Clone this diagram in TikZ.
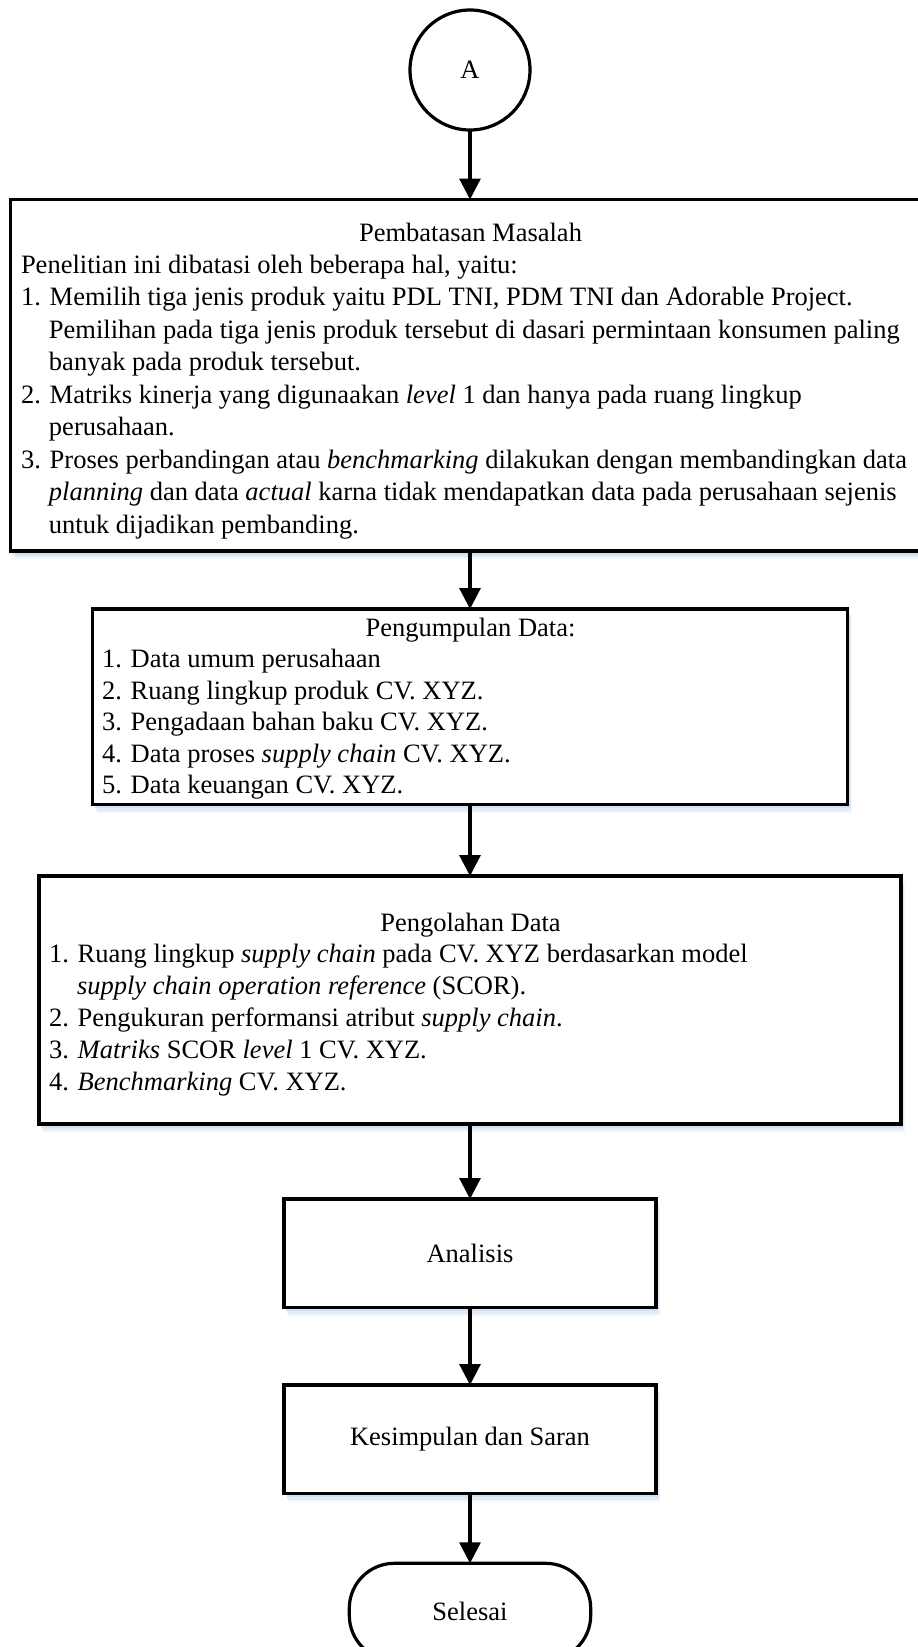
\documentclass[tikz,border=0pt]{standalone}
\usepackage{fontspec}
\setmainfont{Liberation Serif}
\usetikzlibrary{arrows.meta,shadows}
\definecolor{shadowblue}{RGB}{200,218,238}
\begin{document}
\begin{tikzpicture}[x=1pt,y=-1pt,
  every node/.style={inner sep=0pt, outer sep=0pt},
  txt/.style={font=\fontsize{26.5pt}{#1}\selectfont},
  txt/.default=32.3pt,
  procbox/.style={draw, line width=3.2pt, fill=white,
    drop shadow={shadow xshift=4pt, shadow yshift=-8pt, fill=shadowblue, opacity=0.25},
    drop shadow={shadow xshift=3pt, shadow yshift=-6pt, fill=shadowblue, opacity=0.4},
    drop shadow={shadow xshift=2pt, shadow yshift=-3.5pt, fill=shadowblue, opacity=0.6}},
  connector/.style={line width=3.2pt, -{Triangle[width=21pt,length=21pt]}},
  linkcircle/.style={draw, circle, line width=3.2pt, minimum size=120pt, txt},
  terminal/.style={draw, rectangle, rounded corners=45pt, line width=3.2pt, txt}
]
\useasboundingbox (0,0) rectangle (918,1647);

% connector node
\node[linkcircle] (A) at (470,70) {A};

% Pembatasan Masalah
\node[procbox, minimum width=919pt, minimum height=351.5pt] (b1) at (470,375.25) {};
\node[txt, anchor=base] (b1title) at (470.5,241.5) {Pembatasan Masalah};
\node[txt=32.5pt, anchor=base west] (b1list) at (21,273) {\parbox[t]{1000pt}{%
Penelitian ini dibatasi oleh beberapa hal, yaitu:\\
1. Memilih tiga jenis produk yaitu PDL TNI, PDM TNI dan Adorable Project.\\
\hspace*{28pt}Pemilihan pada tiga jenis produk tersebut di dasari permintaan konsumen paling\\
\hspace*{28pt}banyak pada produk tersebut.\\
2. Matriks kinerja yang digunaakan \textit{level} 1 dan hanya pada ruang lingkup\\
\hspace*{28pt}perusahaan.\\
3. Proses perbandingan atau \textit{benchmarking} dilakukan dengan membandingkan data\\
\hspace*{28pt}\textit{planning} dan data \textit{actual} karna tidak mendapatkan data pada perusahaan sejenis\\
\hspace*{28pt}untuk dijadikan pembanding.}};

% Pengumpulan Data
\node[procbox, minimum width=755pt, minimum height=195.5pt] (b2) at (470,706.75) {};
\node[txt, anchor=base] (b2title) at (470.5,636) {Pengumpulan Data:};
\node[txt=31.5pt, anchor=base west] (b2list) at (102,667.5) {\parbox[t]{1000pt}{%
1. Data umum perusahaan\\
2. Ruang lingkup produk CV. XYZ.\\
3. Pengadaan bahan baku CV. XYZ.\\
4. Data proses \textit{supply chain} CV. XYZ.\\
5. Data keuangan CV. XYZ.}};

% Pengolahan Data
\node[procbox, minimum width=862pt, minimum height=248pt] (b3) at (470,1000) {};
\node[txt, anchor=base] (b3title) at (470.5,931) {Pengolahan Data};
\node[txt=32pt, anchor=base west] (b3list) at (49,962.5) {\parbox[t]{1000pt}{%
1. Ruang lingkup \textit{supply chain} pada CV. XYZ berdasarkan model\\
\hspace*{28pt}\textit{supply chain operation reference} (SCOR).\\
2. Pengukuran performansi atribut \textit{supply chain}.\\
3. \textit{Matriks} SCOR \textit{level} 1 CV. XYZ.\\
4. \textit{Benchmarking} CV. XYZ.}};

% Analisis
\node[procbox, txt, minimum width=372pt, minimum height=108.5pt] (b4) at (470,1253.25) {Analisis};
% Kesimpulan dan Saran
\node[procbox, txt, minimum width=372pt, minimum height=108.5pt] (b5) at (470,1439.25) {Kesimpulan dan Saran};
% Selesai
\node[terminal, minimum width=241.4pt, minimum height=97pt] (end) at (470,1611.8) {Selesai};

% connectors
\draw[connector] (A) -- (b1);
\draw[connector] (b1) -- (b2);
\draw[connector] (b2) -- (b3);
\draw[connector] (b3) -- (b4);
\draw[connector] (b4) -- (b5);
\draw[connector] (b5) -- (end);
\end{tikzpicture}
\end{document}
